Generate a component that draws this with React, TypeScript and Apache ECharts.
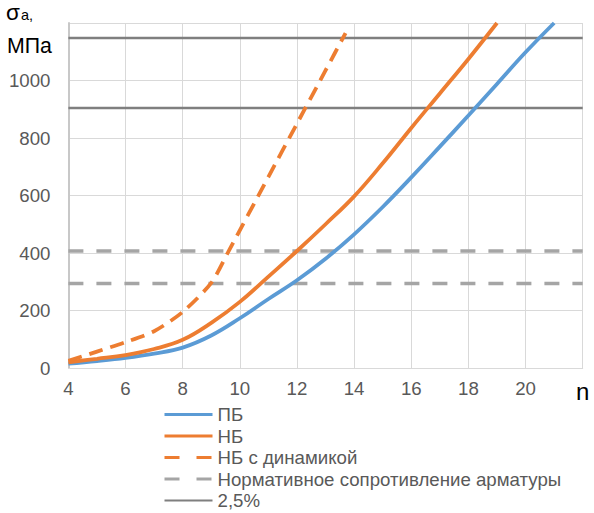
import React, { useEffect, useRef } from "react";
import * as echarts from "echarts";

// ---- data ----
const pbN = [4, 5, 6, 7, 8, 9, 10, 11, 12, 13, 14, 15, 16, 17, 18, 19, 20, 21];
const pbValues = [15, 24, 35, 50, 71, 113, 173, 240, 305, 380, 465, 560, 663, 770, 878, 988, 1098, 1200];

const nbN = [4, 5, 6, 7, 8, 9, 10, 11, 12, 13, 14, 15, 16, 17, 18, 19];
const nbValues = [20, 32, 45, 66, 98, 157, 230, 318, 407, 500, 597, 712, 835, 955, 1075, 1200];

const dynN = [4, 5, 6, 7, 8, 9, 9.6, 11, 12, 13, 13.7];
const dynValues = [25, 57, 90, 128, 195, 296, 405, 665, 850, 1035, 1165];

const normValues = [407, 294];
const limitValues = [1148, 904];

const xMin = 4;
const xMax = 22;
const xStep = 2;
const yMin = 0;
const yMax = 1200;
const yStep = 200;

const names = [
  "ПБ",
  "НБ",
  "НБ с динамикой",
  "Нормативное сопротивление арматуры",
  "2,5%",
];

const FONT = "'Liberation Sans', Arial, sans-serif";

const pairs = (xs: number[], ys: number[]) => xs.map((x, i) => [x, ys[i]]);

export default function App() {
  const ref = useRef<HTMLDivElement>(null);

  useEffect(() => {
    if (!ref.current) return;
    const chart = echarts.init(ref.current, undefined, { renderer: "svg" });

    const refSeries: any[] = [];
    normValues.forEach((v) => {
      refSeries.push({
        name: names[3],
        type: "line",
        data: [
          [xMin, v],
          [xMax, v],
        ],
        symbol: "none",
        lineStyle: { color: "#A5A5A5", width: 3.5, type: [15, 13] },
        itemStyle: { color: "#A5A5A5" },
        z: 2,
      });
    });
    limitValues.forEach((v) => {
      refSeries.push({
        name: names[4],
        type: "line",
        data: [
          [xMin, v],
          [xMax, v],
        ],
        symbol: "none",
        lineStyle: { color: "#7F7F7F", width: 2.5 },
        itemStyle: { color: "#7F7F7F" },
        z: 2,
      });
    });

    chart.setOption({
      animation: false,
      textStyle: { fontFamily: FONT },
      grid: { left: 68.4, right: 11.3, top: 23, bottom: 145, containLabel: false },
      xAxis: {
        type: "value",
        min: xMin,
        max: xMax,
        interval: xStep,
        axisLine: { show: true, lineStyle: { color: "#D9D9D9", width: 1 } },
        axisTick: { show: false },
        splitLine: { show: true, lineStyle: { color: "#D9D9D9", width: 1 } },
        axisLabel: {
          color: "#595959",
          fontSize: 18.67,
          fontFamily: FONT,
          margin: 11,
          formatter: (v: number) => (v === xMax ? "{n|n}" : String(v)),
          rich: {
            n: { color: "#000000", fontSize: 24, fontFamily: FONT },
          },
        },
      },
      yAxis: {
        type: "value",
        min: yMin,
        max: yMax,
        interval: yStep,
        axisLine: { show: true, lineStyle: { color: "#C8C8C8", width: 2 } },
        axisTick: { show: false },
        splitLine: { show: true, lineStyle: { color: "#D9D9D9", width: 1 } },
        axisLabel: {
          color: "#595959",
          fontSize: 18.67,
          fontFamily: FONT,
          margin: 18,
          formatter: (v: number) => (v === yMax ? "" : String(v)),
        },
      },
      legend: {
        orient: "vertical",
        left: 158,
        top: 400,
        height: 200,
        itemWidth: 48,
        itemHeight: 14,
        itemGap: 2.5,
        itemStyle: { opacity: 0 },
        data: [
          { name: names[0], lineStyle: { width: 3 } },
          { name: names[1], lineStyle: { width: 3 } },
          { name: names[2], lineStyle: { width: 3, type: [15, 17] } },
          { name: names[3], lineStyle: { width: 3, type: [15, 17] } },
          { name: names[4], lineStyle: { width: 2 } },
        ],
        textStyle: {
          color: "#595959",
          fontSize: 18.67,
          fontFamily: FONT,
          lineHeight: 19,
        },
      },
      graphic: [
        {
          type: "text",
          left: 6,
          top: 1,
          style: { text: "σ", font: `22.5px ${FONT}`, fill: "#000000" },
        },
        {
          type: "text",
          left: 21,
          top: 7.7,
          style: { text: "a,", font: `14.5px ${FONT}`, fill: "#000000" },
        },
        {
          type: "text",
          left: 7,
          top: 35.3,
          style: { text: "МПа", font: `21.3px ${FONT}`, fill: "#000000" },
        },
      ],
      series: [
        ...refSeries,
        {
          name: names[0],
          type: "line",
          data: pairs(pbN, pbValues),
          smooth: 0.4,
          symbol: "none",
          lineStyle: { color: "#5B9BD5", width: 3.8 },
          itemStyle: { color: "#5B9BD5" },
          z: 3,
        },
        {
          name: names[1],
          type: "line",
          data: pairs(nbN, nbValues),
          smooth: 0.4,
          symbol: "none",
          lineStyle: { color: "#ED7D31", width: 3.8 },
          itemStyle: { color: "#ED7D31" },
          z: 3,
        },
        {
          name: names[2],
          type: "line",
          data: pairs(dynN, dynValues),
          smooth: 0.25,
          symbol: "none",
          lineStyle: { color: "#ED7D31", width: 3.8, type: [14, 8] },
          itemStyle: { color: "#ED7D31" },
          z: 3,
        },
      ],
    });

    return () => chart.dispose();
  }, []);

  return (
    <div
      ref={ref}
      style={{ position: "fixed", left: 0, top: 0, width: 594, height: 513, background: "#ffffff" }}
    />
  );
}
